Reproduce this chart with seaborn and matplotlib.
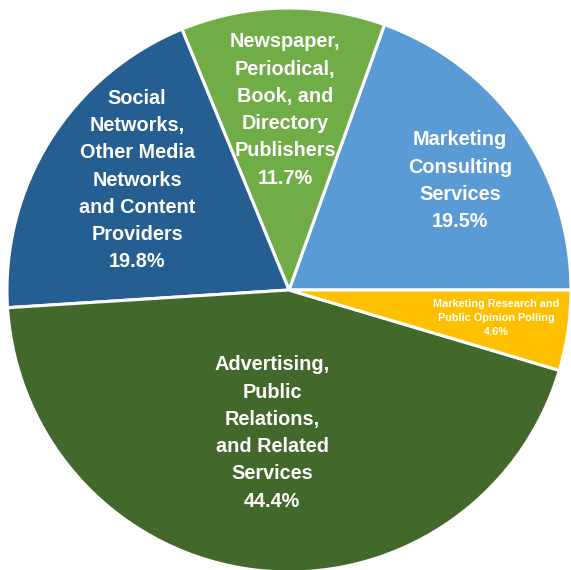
import matplotlib
matplotlib.use("Agg")
import matplotlib.pyplot as plt
import seaborn as sns

sns.set_theme(style="white")
plt.rcParams['font.family'] = ['Liberation Sans', 'DejaVu Sans']

labels = ['Marketing\nConsulting\nServices',
          'Newspaper,\nPeriodical,\nBook, and\nDirectory\nPublishers',
          'Social\nNetworks,\nOther Media\nNetworks\nand Content\nProviders',
          'Advertising,\nPublic\nRelations,\nand Related\nServices',
          'Marketing Research and\nPublic Opinion Polling']
shares = [19.5, 11.7, 19.8, 44.4, 4.6]
colors = ['#5B9BD5', '#70AD47', '#255E91', '#43682B', '#FFC000']

# label centres (data units, pie radius = 1) and font sizes
label_x = [0.606, -0.014, -0.539, -0.060, 0.734]
label_y = [0.387, 0.638, 0.390, -0.507, -0.099]
label_size = [14.3, 14.3, 14.3, 14.3, 7.8]

fig = plt.figure(figsize=(5.71, 5.70), dpi=100)
ax = fig.add_axes([0, 0, 1, 1])

ax.pie(shares, colors=colors, startangle=0, counterclock=True, radius=1,
       wedgeprops=dict(edgecolor='white', linewidth=2.2))

for lab, val, x, y, fs in zip(labels, shares, label_x, label_y, label_size):
    ax.text(x, y, f"{lab}\n{val:.1f}%", ha='center', va='center', color='white',
            fontsize=fs, fontweight='bold', linespacing=1.55)

ax.set_xlim(-289 / 282, 282 / 282)
ax.set_ylim(-280 / 282, 290 / 282)
ax.set_aspect('auto')
ax.axis('off')

fig.savefig('out.png', dpi=100)
